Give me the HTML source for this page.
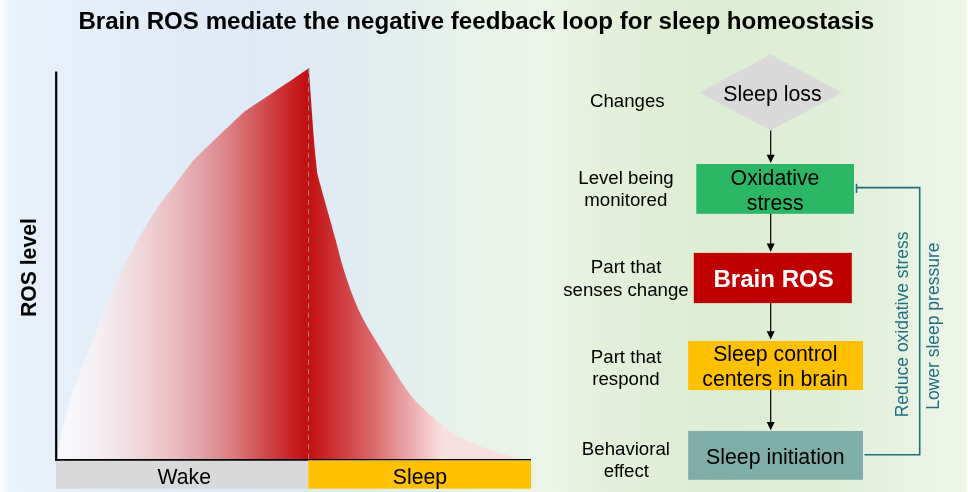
<!DOCTYPE html>
<html>
<head>
<meta charset="utf-8">
<title>Brain ROS mediate the negative feedback loop for sleep homeostasis</title>
<style>
html,body{margin:0;padding:0;background:#fff;}
body{width:968px;height:492px;overflow:hidden;}
svg{display:block;}
text{font-family:"Liberation Sans",Arial,sans-serif;fill:#000;}
.b{font-weight:bold;}
.box{font-size:21.3px;text-anchor:middle;}
.side{font-size:18.67px;text-anchor:middle;}
.teal{fill:#1f6e7f;font-size:17.5px;text-anchor:middle;}
</style>
</head>
<body>
<svg width="968" height="492" viewBox="0 0 968 492">
<defs>
<linearGradient id="bg" x1="0" y1="0" x2="968" y2="0" gradientUnits="userSpaceOnUse">
<stop offset="0" stop-color="#fbfcfe"/>
<stop offset="0.011" stop-color="#e9f1fa"/>
<stop offset="0.07" stop-color="#e6effa"/>
<stop offset="0.26" stop-color="#deeaf6"/>
<stop offset="0.34" stop-color="#e0ebf3"/>
<stop offset="0.48" stop-color="#e7f2ea"/>
<stop offset="0.568" stop-color="#ecf4e7"/>
<stop offset="0.62" stop-color="#e5f0dc"/>
<stop offset="0.69" stop-color="#dfeed5"/>
<stop offset="0.745" stop-color="#ddedd2"/>
<stop offset="0.87" stop-color="#e1efd8"/>
<stop offset="0.94" stop-color="#e8f3e3"/>
<stop offset="0.9975" stop-color="#eef6ea"/>
<stop offset="1" stop-color="#fbfdfa"/>
</linearGradient>
<linearGradient id="gw" x1="57" y1="0" x2="308" y2="0" gradientUnits="userSpaceOnUse">
<stop offset="0" stop-color="#f7f9fd"/>
<stop offset="0.08" stop-color="#f6f5fa"/>
<stop offset="0.17" stop-color="#f4eff3"/>
<stop offset="0.29" stop-color="#f0dde1"/>
<stop offset="0.43" stop-color="#ebc4c8"/>
<stop offset="0.57" stop-color="#e3a3a7"/>
<stop offset="0.69" stop-color="#db8084"/>
<stop offset="0.75" stop-color="#d6686b"/>
<stop offset="0.93" stop-color="#c92327"/>
<stop offset="1" stop-color="#c20e10"/>
</linearGradient>
<linearGradient id="gs" x1="308" y1="0" x2="444" y2="0" gradientUnits="userSpaceOnUse">
<stop offset="0" stop-color="#c20e10"/>
<stop offset="0.25" stop-color="#cf3d40"/>
<stop offset="0.5" stop-color="#dc6d70"/>
<stop offset="0.75" stop-color="#ebaaac"/>
<stop offset="0.93" stop-color="#f6d4d5"/>
<stop offset="1" stop-color="#f8e0e0"/>
</linearGradient>
</defs>
<rect x="0" y="0" width="968" height="492" fill="url(#bg)"/>

<!-- chart areas -->
<path fill="url(#gw)" d="M57,459.5 C57.0,459.0 56.9,458.6 57.2,456.5 C57.5,454.4 57.6,452.0 58.7,446.6 C59.8,441.2 61.8,432.0 63.6,424.3 C65.5,416.6 67.5,408.1 69.8,400.7 C72.1,393.3 74.8,386.5 77.3,379.7 C79.8,372.9 82.4,365.8 84.7,359.8 C87.0,353.8 88.8,349.0 91.0,343.5 C93.2,338.0 95.1,333.7 97.9,326.8 C100.7,319.9 104.2,310.7 107.7,302.3 C111.2,293.9 115.0,285.0 119.1,276.3 C123.2,267.6 127.8,258.3 132.1,250.2 C136.4,242.0 140.8,234.7 145.1,227.4 C149.4,220.1 153.9,212.5 158.1,206.3 C162.3,200.2 166.9,195.2 170.5,190.5 C174.1,185.8 176.3,182.9 179.9,178.1 C183.5,173.3 189.9,164.6 191.9,161.9 C193.7,160.1 198.5,155.2 202.7,151.1 C206.9,147.0 212.2,141.9 216.9,137.4 C221.7,132.9 226.7,128.2 231.2,124.0 C235.7,119.8 241.9,114.1 244.0,112.1 C246.1,110.6 251.8,106.7 256.8,103.3 C261.8,99.9 267.7,96.0 273.9,91.9 C280.1,87.8 288.0,82.4 293.8,78.5 C299.6,74.6 306.1,70.2 308.5,68.6 L309.2,68.6 L309.2,459.5 Z"/>
<path fill="url(#gs)" d="M307.8,69.2 L308.5,68.6 C308.8,71.9 309.6,80.4 310.2,88.4 C310.8,96.4 311.5,107.2 312.2,116.7 C312.9,126.2 313.5,135.6 314.4,145.1 C315.2,154.6 316.8,168.8 317.3,173.5 C317.8,175.2 318.6,178.7 320.0,183.8 C321.4,188.9 323.1,195.1 325.6,203.9 C328.1,212.7 332.1,226.7 334.8,236.8 C337.6,246.9 339.4,255.2 342.1,264.3 C344.8,273.4 347.9,282.9 351.2,291.7 C354.5,300.5 358.1,309.1 362.2,317.3 C366.3,325.5 370.8,332.4 376.0,341.0 C381.2,349.6 387.5,360.0 393.3,369.0 C399.1,378.0 403.9,386.8 410.6,395.0 C417.3,403.2 425.9,411.4 433.6,418.1 C441.3,424.8 449.0,430.8 456.7,435.4 C464.4,440.0 472.1,442.9 479.8,446.0 C487.5,449.1 496.2,452.0 502.9,454.1 C509.6,456.2 517.3,457.9 520.2,458.6 L520.2,459.5 L307.8,459.5 Z"/>
<line x1="308.5" y1="68.1" x2="308.5" y2="459.5" stroke="#8c8484" stroke-width="1.15" stroke-dasharray="5.4 4"/>

<!-- bars -->
<rect x="56" y="460.5" width="252.5" height="28.2" fill="#d9d9d9"/>
<rect x="308.3" y="460.3" width="222.7" height="28.4" fill="#ffc000"/>
<!-- axes -->
<line x1="56.2" y1="71.4" x2="56.2" y2="460.8" stroke="#000" stroke-width="2.2"/>
<line x1="55.1" y1="459.9" x2="308.3" y2="459.9" stroke="#000" stroke-width="1.8"/>
<line x1="308" y1="459.6" x2="531" y2="459.6" stroke="#000" stroke-width="1.3"/>

<text class="b" x="476.3" y="28.5" font-size="24.12" text-anchor="middle">Brain ROS mediate the negative feedback loop for sleep homeostasis</text>
<text class="b" transform="translate(36.4 267.6) rotate(-90)" font-size="21.2" text-anchor="middle">ROS level</text>
<text x="184.3" y="483.7" font-size="21.2" text-anchor="middle">Wake</text>
<text x="419.9" y="483.7" font-size="21.2" text-anchor="middle">Sleep</text>

<!-- flow shapes -->
<polygon points="699.2,92.5 770.6,54.4 842,92.5 770.6,130.4" fill="#d9d9d9"/>
<rect x="696.3" y="164" width="157.7" height="49.8" fill="#2bb765"/>
<rect x="693.8" y="252.9" width="158" height="50.2" fill="#c00000"/>
<rect x="688.2" y="341" width="174.8" height="49.1" fill="#ffc000"/>
<rect x="688.2" y="431" width="174.8" height="48.8" fill="#7faea9"/>

<!-- arrows -->
<g stroke="#000" stroke-width="1.2" fill="none">
<line x1="770.7" y1="130.5" x2="770.7" y2="156"/>
<line x1="770.7" y1="213.8" x2="770.7" y2="245"/>
<line x1="770.7" y1="302.5" x2="770.7" y2="332"/>
<line x1="770.7" y1="389.5" x2="770.7" y2="423"/>
</g>
<g fill="#000">
<polygon points="766.7,154.8 774.7,154.8 770.7,163"/>
<polygon points="766.7,243.6 774.7,243.6 770.7,251.8"/>
<polygon points="766.7,331.2 774.7,331.2 770.7,339.4"/>
<polygon points="766.7,422 774.7,422 770.7,430.2"/>
</g>
<!-- feedback -->
<polyline points="864.5,454.7 919.7,454.7 919.7,187.6 856.5,187.6" fill="none" stroke="#226f80" stroke-width="1.6"/>
<line x1="856.5" y1="183.8" x2="856.5" y2="193" stroke="#226f80" stroke-width="1.6"/>

<!-- labels -->
<text class="box" x="772.4" y="101">Sleep loss</text>
<text class="box" x="775" y="184.8">Oxidative</text>
<text class="box" x="775.2" y="209.5">stress</text>
<text class="b" x="773.7" y="286.6" font-size="24.1" text-anchor="middle" style="fill:#fff">Brain ROS</text>
<text class="box" x="775.3" y="360.9">Sleep control</text>
<text class="box" x="775.1" y="385.8">centers in brain</text>
<text class="box" x="775.3" y="464">Sleep initiation</text>

<text class="side" x="627.3" y="107.2">Changes</text>
<text class="side" x="626" y="183.7">Level being</text>
<text class="side" x="625.8" y="205.5">monitored</text>
<text class="side" x="626.1" y="273.4">Part that</text>
<text class="side" x="626" y="295.9">senses change</text>
<text class="side" x="626.1" y="363">Part that</text>
<text class="side" x="626" y="385.2">respond</text>
<text class="side" x="625.9" y="455">Behavioral</text>
<text class="side" x="626.3" y="477.1">effect</text>

<text class="teal" transform="translate(907.9 324.4) rotate(-90)">Reduce oxidative stress</text>
<text class="teal" transform="translate(938.6 326.2) rotate(-90)">Lower sleep pressure</text>
</svg>
</body>
</html>
